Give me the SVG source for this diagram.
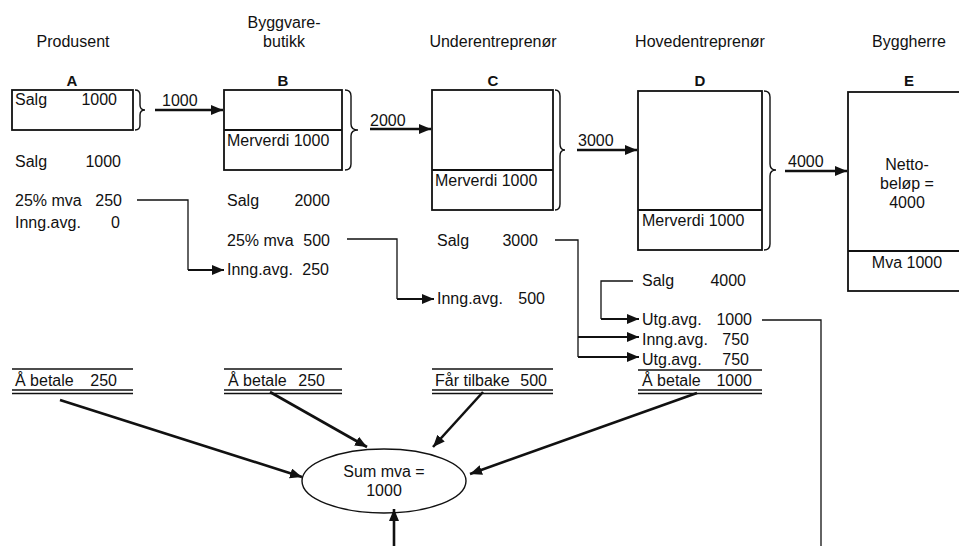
<svg xmlns="http://www.w3.org/2000/svg" width="959" height="546" viewBox="0 0 959 546">
<defs>
<style>
text{font-family:"Liberation Sans",Arial,sans-serif;font-size:16px;fill:#111}
.h{font-size:16px}
.lbl{font-weight:bold;font-size:15px;text-anchor:middle}
.mid{text-anchor:middle}
.end{text-anchor:end}
.box{fill:none;stroke:#111;stroke-width:1.8}
.thin{fill:none;stroke:#111;stroke-width:1.3}
.arr{fill:none;stroke:#111;stroke-width:2.6}
.arr2{fill:none;stroke:#111;stroke-width:2}
.brace{fill:none;stroke:#111;stroke-width:1.4}
.rule{stroke:#111;stroke-width:1.6}
</style>
<marker id="ah" markerUnits="userSpaceOnUse" markerWidth="14" markerHeight="11" refX="12" refY="5" orient="auto">
<path d="M0,0 L12,5 L0,10 z" fill="#111"/>
</marker>
</defs>
<rect width="959" height="546" fill="#fff"/>

<g id="headers">
<text class="h mid" x="73" y="47">Produsent</text>
<text class="h mid" x="284" y="28">Byggvare-</text>
<text class="h mid" x="284" y="47">butikk</text>
<text class="h mid" x="493" y="47">Underentreprenør</text>
<text class="h mid" x="700" y="47">Hovedentreprenør</text>
<text class="h mid" x="909" y="47">Byggherre</text>
</g>

<g id="nodeA">
<text class="lbl" x="72" y="86">A</text>
<rect class="box" x="12" y="90" width="121" height="40"/>
<text x="15" y="105">Salg</text><text class="end" x="117" y="105">1000</text>
<path class="brace" d="M135,90 Q140,90 140,95 L140,105 Q140,110 145,110 Q140,110 140,115 L140,125 Q140,130 135,130"/>
</g>

<g id="nodeB">
<text class="lbl" x="283" y="86">B</text>
<rect class="box" x="224" y="90" width="118" height="80"/>
<line class="box" x1="224" y1="130" x2="342" y2="130"/>
<text x="227" y="146">Merverdi 1000</text>
<path class="brace" d="M345,90 Q351,90 351,96 L351,124 Q351,130 358,130 Q351,130 351,136 L351,164 Q351,170 345,170"/>
</g>

<g id="nodeC">
<text class="lbl" x="493" y="86">C</text>
<rect class="box" x="432" y="90" width="121" height="120"/>
<line class="box" x1="432" y1="170" x2="553" y2="170"/>
<text x="435" y="186">Merverdi 1000</text>
<path class="brace" d="M555,90 Q560,90 560,96 L560,144 Q560,150 565,150 Q560,150 560,156 L560,204 Q560,210 555,210"/>
</g>

<g id="nodeD">
<text class="lbl" x="700" y="86">D</text>
<rect class="box" x="638" y="91" width="124" height="159"/>
<line class="box" x1="638" y1="210" x2="762" y2="210"/>
<text x="642" y="226">Merverdi  1000</text>
<path class="brace" d="M764,91 Q770,91 770,97 L770,164 Q770,170 776,170 Q770,170 770,176 L770,244 Q770,250 764,250"/>
</g>

<g id="nodeE">
<text class="lbl" x="909" y="86">E</text>
<rect class="box" x="848" y="92" width="130" height="199"/>
<line class="box" x1="848" y1="251" x2="978" y2="251"/>
<text class="mid" x="907" y="170">Netto-</text>
<text class="mid" x="907" y="189">beløp =</text>
<text class="mid" x="907" y="208">4000</text>
<text class="mid" x="907" y="268">Mva 1000</text>
</g>

<g id="colA">
<text x="15" y="167">Salg</text><text class="end" x="121" y="167">1000</text>
<text x="15" y="206">25% mva</text><text class="end" x="122" y="206">250</text>
<text x="15" y="228">Inng.avg.</text><text class="end" x="120" y="228">0</text>
</g>

<g id="colB">
<text x="227" y="206">Salg</text><text class="end" x="330" y="206">2000</text>
<text x="227" y="246">25% mva</text><text class="end" x="330" y="246">500</text>
<text x="227" y="275">Inng.avg.</text><text class="end" x="329" y="275">250</text>
</g>

<g id="colC">
<text x="437" y="246">Salg</text><text class="end" x="538" y="246">3000</text>
<text x="437" y="304">Inng.avg.</text><text class="end" x="545" y="304">500</text>
</g>

<g id="colD">
<text x="642" y="286">Salg</text><text class="end" x="746" y="286">4000</text>
<text x="642" y="325">Utg.avg.</text><text class="end" x="752" y="325">1000</text>
<text x="642" y="345">Inng.avg.</text><text class="end" x="749" y="345">750</text>
<text x="642" y="365">Utg.avg.</text><text class="end" x="749" y="365">750</text>
<line class="rule" x1="638" y1="370" x2="762" y2="370"/>
</g>

<g id="totA">
<line class="rule" x1="12" y1="369" x2="133" y2="369"/>
<text x="15" y="386">Å betale</text><text class="end" x="117" y="386">250</text>
<line class="rule" x1="12" y1="390" x2="133" y2="390"/>
<line class="rule" x1="12" y1="393.5" x2="133" y2="393.5"/>
</g>
<g id="totB">
<line class="rule" x1="224" y1="369" x2="342" y2="369"/>
<text x="228" y="386">Å betale</text><text class="end" x="325" y="386">250</text>
<line class="rule" x1="224" y1="390" x2="342" y2="390"/>
<line class="rule" x1="224" y1="393.5" x2="342" y2="393.5"/>
</g>
<g id="totC">
<line class="rule" x1="432" y1="369" x2="553" y2="369"/>
<text x="435" y="386">Får tilbake</text><text class="end" x="547" y="386">500</text>
<line class="rule" x1="432" y1="390" x2="553" y2="390"/>
<line class="rule" x1="432" y1="393.5" x2="553" y2="393.5"/>
</g>
<g id="totD">
<text x="642" y="386">Å betale</text><text class="end" x="752" y="386">1000</text>
<line class="rule" x1="638" y1="390" x2="762" y2="390"/>
<line class="rule" x1="638" y1="393.5" x2="762" y2="393.5"/>
</g>

<g id="sum">
<ellipse cx="384" cy="481" rx="82" ry="32" fill="none" stroke="#111" stroke-width="1.4"/>
<text class="mid" x="384" y="477">Sum mva =</text>
<text class="mid" x="384" y="496">1000</text>
</g>

<g id="connectors">
<path class="arr" d="M155,110 H223" marker-end="url(#ah)"/>
<text x="162" y="106">1000</text>
<path class="arr" d="M370,129 H431" marker-end="url(#ah)"/>
<text x="370" y="126">2000</text>
<path class="arr" d="M577,150 H637" marker-end="url(#ah)"/>
<text x="578" y="146">3000</text>
<path class="arr" d="M785,171 H847" marker-end="url(#ah)"/>
<text x="788" y="167">4000</text>

<path class="thin" d="M137,200 H188 V270"/>
<path class="arr2" d="M188,270 H224" marker-end="url(#ah)"/>
<path class="thin" d="M347,239 H397 V299"/>
<path class="arr2" d="M397,299 H434" marker-end="url(#ah)"/>
<path class="thin" d="M555,240 H578 V357"/>
<path class="arr2" d="M578,337 H639" marker-end="url(#ah)"/>
<path class="arr2" d="M578,357 H639" marker-end="url(#ah)"/>
<path class="thin" d="M633,281 H601 V319"/>
<path class="arr2" d="M601,319 H639" marker-end="url(#ah)"/>
<path class="thin" d="M762,320 H821 V546"/>

<path class="arr" d="M60,400 L302,477" marker-end="url(#ah)"/>
<path class="arr" d="M270,392 L367,447" marker-end="url(#ah)"/>
<path class="arr" d="M483,392 L433,447" marker-end="url(#ah)"/>
<path class="arr" d="M697,393 L470,474" marker-end="url(#ah)"/>
<path class="arr" d="M394,546 L394,509" marker-end="url(#ah)"/>
</g>
</svg>
